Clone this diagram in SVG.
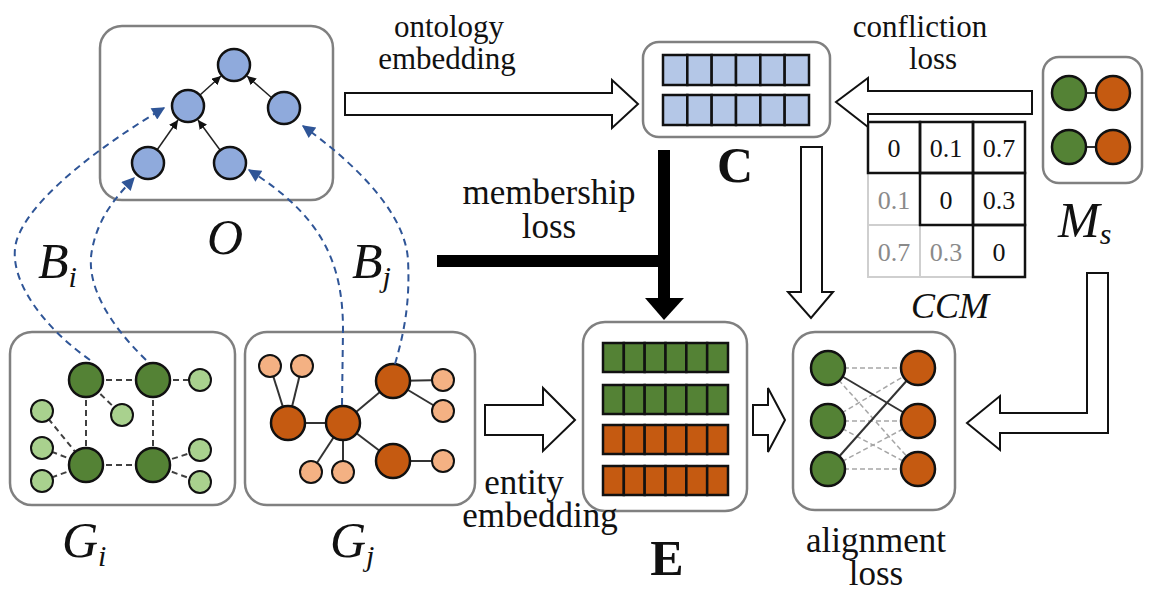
<svg xmlns="http://www.w3.org/2000/svg" width="1149" height="593" viewBox="0 0 1149 593">
  <defs>
    <style>
      .box { fill: #ffffff; stroke: #808080; stroke-width: 2.5; }
      .lbl { font-family: "Liberation Serif", "Times New Roman", serif; font-size: 35px; fill: #111; text-anchor: middle; }
      .lbl-s { font-size: 31px; }
      .math { font-family: "Liberation Serif", "Times New Roman", serif; font-style: italic; fill: #111; }
      .bold { font-family: "Liberation Serif", "Times New Roman", serif; font-weight: bold; fill: #111; text-anchor: middle; }
      .onode { fill: #8faadc; stroke: #111; stroke-width: 2.5; }
      .big-g { fill: #548235; stroke: #111; stroke-width: 2.5; }
      .small-g { fill: #a9d18e; stroke: #111; stroke-width: 2; }
      .big-o { fill: #c55a11; stroke: #111; stroke-width: 2.5; }
      .small-o { fill: #f4b183; stroke: #111; stroke-width: 2; }
      .cell-b { fill: #b4c7e7; stroke: #111; stroke-width: 2.5; }
      .cell-g { fill: #548235; stroke: #111; stroke-width: 2.5; }
      .cell-o { fill: #c55a11; stroke: #111; stroke-width: 2.5; }
      .dash-edge { stroke: #404040; stroke-width: 2; stroke-dasharray: 6 4; fill: none; }
      .solid-edge { stroke: #333; stroke-width: 2; fill: none; }
      .light-dash { stroke: #a6a6a6; stroke-width: 1.5; stroke-dasharray: 5 3; fill: none; }
      .blue-dash { stroke: #2f5597; stroke-width: 2; stroke-dasharray: 7 5; fill: none; marker-end: url(#blueHead); }
      .tree-edge { stroke: #222; stroke-width: 1.5; fill: none; marker-end: url(#blackHead); }
      .hollow { fill: #ffffff; stroke: #111; stroke-width: 2; stroke-linejoin: miter; }
      .mtx-num { font-family: "Liberation Serif", "Times New Roman", serif; font-size: 26px; text-anchor: middle; }
    </style>
    <marker id="blackHead" viewBox="0 0 10 10" refX="10" refY="5" markerWidth="9" markerHeight="9" markerUnits="userSpaceOnUse" orient="auto">
      <path d="M0,0 L10,5 L0,10 z" fill="#111"/>
    </marker>
    <marker id="blueHead" viewBox="0 0 10 10" refX="9" refY="5" markerWidth="15" markerHeight="13" markerUnits="userSpaceOnUse" orient="auto">
      <path d="M0,0 L10,5 L0,10 z" fill="#2f5597"/>
    </marker>
  </defs>

  <rect width="1149" height="593" fill="#ffffff"/>

  <!-- ontology O -->
  <g id="node-O">
    <rect class="box" x="100" y="26" width="233" height="174" rx="22"/>
    <line class="tree-edge" x1="157" y1="150" x2="178" y2="120"/>
    <line class="tree-edge" x1="220" y1="150" x2="198" y2="120"/>
    <line class="tree-edge" x1="200" y1="95" x2="221" y2="76"/>
    <line class="tree-edge" x1="272" y1="98" x2="247" y2="76"/>
    <circle class="onode" cx="234" cy="65" r="16"/>
    <circle class="onode" cx="188" cy="106" r="16"/>
    <circle class="onode" cx="284" cy="108" r="16"/>
    <circle class="onode" cx="148" cy="163" r="16"/>
    <circle class="onode" cx="230" cy="163" r="16"/>
    <text class="math" x="225" y="254" font-size="50" text-anchor="middle">O</text>
  </g>

  <!-- graph Gi -->
  <g id="node-Gi">
    <rect class="box" x="10" y="332" width="225" height="173" rx="22"/>
    <line class="dash-edge" x1="86" y1="380" x2="153" y2="380"/>
    <line class="dash-edge" x1="86" y1="380" x2="86" y2="465"/>
    <line class="dash-edge" x1="153" y1="380" x2="153" y2="465"/>
    <line class="dash-edge" x1="86" y1="465" x2="153" y2="465"/>
    <line class="dash-edge" x1="153" y1="380" x2="200" y2="380"/>
    <line class="dash-edge" x1="86" y1="380" x2="122" y2="415"/>
    <line class="dash-edge" x1="42" y1="411" x2="86" y2="465"/>
    <line class="dash-edge" x1="42" y1="448" x2="86" y2="465"/>
    <line class="dash-edge" x1="42" y1="481" x2="86" y2="465"/>
    <line class="dash-edge" x1="153" y1="465" x2="200" y2="450"/>
    <line class="dash-edge" x1="153" y1="465" x2="200" y2="482"/>
    <circle class="big-g" cx="86" cy="380" r="17"/>
    <circle class="big-g" cx="153" cy="380" r="17"/>
    <circle class="big-g" cx="86" cy="465" r="17"/>
    <circle class="big-g" cx="153" cy="465" r="17"/>
    <circle class="small-g" cx="200" cy="380" r="11"/>
    <circle class="small-g" cx="122" cy="415" r="11"/>
    <circle class="small-g" cx="42" cy="411" r="11"/>
    <circle class="small-g" cx="42" cy="448" r="11"/>
    <circle class="small-g" cx="42" cy="481" r="11"/>
    <circle class="small-g" cx="200" cy="450" r="11"/>
    <circle class="small-g" cx="200" cy="482" r="11"/>
    <text class="math" x="62" y="557" font-size="50">G<tspan font-size="30" dy="9">i</tspan></text>
  </g>

  <!-- graph Gj -->
  <g id="node-Gj">
    <rect class="box" x="245" y="332" width="230" height="173" rx="22"/>
    <line class="solid-edge" x1="288" y1="423" x2="270" y2="366"/>
    <line class="solid-edge" x1="288" y1="423" x2="302" y2="366"/>
    <line class="solid-edge" x1="288" y1="423" x2="343" y2="423" stroke-width="3"/>
    <line class="solid-edge" x1="343" y1="423" x2="393" y2="381"/>
    <line class="solid-edge" x1="343" y1="423" x2="393" y2="461"/>
    <line class="solid-edge" x1="343" y1="423" x2="311" y2="472"/>
    <line class="solid-edge" x1="343" y1="423" x2="343" y2="472"/>
    <line class="solid-edge" x1="393" y1="381" x2="443" y2="380"/>
    <line class="solid-edge" x1="393" y1="381" x2="443" y2="411"/>
    <line class="solid-edge" x1="393" y1="461" x2="443" y2="461" stroke-width="3"/>
    <circle class="big-o" cx="288" cy="423" r="17"/>
    <circle class="big-o" cx="343" cy="423" r="17"/>
    <circle class="big-o" cx="393" cy="381" r="17"/>
    <circle class="big-o" cx="393" cy="461" r="17"/>
    <circle class="small-o" cx="270" cy="366" r="11"/>
    <circle class="small-o" cx="302" cy="366" r="11"/>
    <circle class="small-o" cx="443" cy="380" r="11"/>
    <circle class="small-o" cx="443" cy="411" r="11"/>
    <circle class="small-o" cx="311" cy="472" r="11"/>
    <circle class="small-o" cx="343" cy="472" r="11"/>
    <circle class="small-o" cx="443" cy="461" r="11"/>
    <text class="math" x="330" y="557" font-size="50">G<tspan font-size="30" dy="9">j</tspan></text>
  </g>

  <!-- concept embeddings C -->
  <g id="node-C">
    <rect class="box" x="643" y="42" width="187" height="95" rx="16"/>
    <g>
      <rect class="cell-b" x="663" y="55" width="24.33" height="30"/>
      <rect class="cell-b" x="687.33" y="55" width="24.33" height="30"/>
      <rect class="cell-b" x="711.67" y="55" width="24.33" height="30"/>
      <rect class="cell-b" x="736" y="55" width="24.33" height="30"/>
      <rect class="cell-b" x="760.33" y="55" width="24.33" height="30"/>
      <rect class="cell-b" x="784.67" y="55" width="24.33" height="30"/>
      <rect class="cell-b" x="663" y="95" width="24.33" height="30"/>
      <rect class="cell-b" x="687.33" y="95" width="24.33" height="30"/>
      <rect class="cell-b" x="711.67" y="95" width="24.33" height="30"/>
      <rect class="cell-b" x="736" y="95" width="24.33" height="30"/>
      <rect class="cell-b" x="760.33" y="95" width="24.33" height="30"/>
      <rect class="cell-b" x="784.67" y="95" width="24.33" height="30"/>
    </g>
    <text class="bold" x="735" y="182" font-size="50">C</text>
  </g>

  <!-- concept conflict matrix -->
  <g id="node-CCM">
    <g fill="#ffffff" stroke="#cfcfcf" stroke-width="2">
      <rect x="868" y="173" width="52" height="52"/>
      <rect x="868" y="225" width="52" height="52"/>
      <rect x="920" y="225" width="53" height="52"/>
    </g>
    <g fill="none" stroke="#111" stroke-width="2.5">
      <rect x="868" y="122" width="52" height="51"/>
      <rect x="920" y="122" width="53" height="51"/>
      <rect x="973" y="122" width="52" height="51"/>
      <rect x="920" y="173" width="53" height="52"/>
      <rect x="973" y="173" width="52" height="52"/>
      <rect x="973" y="225" width="52" height="52"/>
    </g>
    <g class="mtx-num" fill="#111">
      <text x="894" y="157">0</text>
      <text x="946" y="157">0.1</text>
      <text x="999" y="157">0.7</text>
      <text x="946" y="209">0</text>
      <text x="999" y="209">0.3</text>
      <text x="999" y="261">0</text>
    </g>
    <g class="mtx-num" fill="#8a8a8a">
      <text x="894" y="209">0.1</text>
      <text x="894" y="261">0.7</text>
      <text x="946" y="261">0.3</text>
    </g>
    <text class="math" x="950" y="318" font-size="36" text-anchor="middle">CCM</text>
  </g>

  <!-- seed alignments Ms -->
  <g id="node-Ms">
    <rect class="box" x="1043" y="57" width="99" height="126" rx="16"/>
    <line class="solid-edge" x1="1069" y1="93" x2="1113" y2="93"/>
    <line class="solid-edge" x1="1069" y1="147" x2="1113" y2="147"/>
    <circle class="big-g" cx="1069" cy="93" r="17"/>
    <circle class="big-o" cx="1113" cy="93" r="17"/>
    <circle class="big-g" cx="1069" cy="147" r="17"/>
    <circle class="big-o" cx="1113" cy="147" r="17"/>
    <text class="math" x="1058" y="237" font-size="50">M<tspan font-size="30" dy="7">s</tspan></text>
  </g>

  <!-- entity embeddings E -->
  <g id="node-E">
    <rect class="box" x="583" y="322" width="164" height="189" rx="22"/>
    <g>
      <rect class="cell-g" x="603" y="343" width="20.83" height="29"/>
      <rect class="cell-g" x="623.83" y="343" width="20.83" height="29"/>
      <rect class="cell-g" x="644.67" y="343" width="20.83" height="29"/>
      <rect class="cell-g" x="665.5" y="343" width="20.83" height="29"/>
      <rect class="cell-g" x="686.33" y="343" width="20.83" height="29"/>
      <rect class="cell-g" x="707.17" y="343" width="20.83" height="29"/>
      <rect class="cell-g" x="603" y="385" width="20.83" height="29"/>
      <rect class="cell-g" x="623.83" y="385" width="20.83" height="29"/>
      <rect class="cell-g" x="644.67" y="385" width="20.83" height="29"/>
      <rect class="cell-g" x="665.5" y="385" width="20.83" height="29"/>
      <rect class="cell-g" x="686.33" y="385" width="20.83" height="29"/>
      <rect class="cell-g" x="707.17" y="385" width="20.83" height="29"/>
      <rect class="cell-o" x="603" y="425" width="20.83" height="29"/>
      <rect class="cell-o" x="623.83" y="425" width="20.83" height="29"/>
      <rect class="cell-o" x="644.67" y="425" width="20.83" height="29"/>
      <rect class="cell-o" x="665.5" y="425" width="20.83" height="29"/>
      <rect class="cell-o" x="686.33" y="425" width="20.83" height="29"/>
      <rect class="cell-o" x="707.17" y="425" width="20.83" height="29"/>
      <rect class="cell-o" x="603" y="466" width="20.83" height="29"/>
      <rect class="cell-o" x="623.83" y="466" width="20.83" height="29"/>
      <rect class="cell-o" x="644.67" y="466" width="20.83" height="29"/>
      <rect class="cell-o" x="665.5" y="466" width="20.83" height="29"/>
      <rect class="cell-o" x="686.33" y="466" width="20.83" height="29"/>
      <rect class="cell-o" x="707.17" y="466" width="20.83" height="29"/>
    </g>
    <text class="bold" x="667" y="575" font-size="50">E</text>
  </g>

  <!-- alignment module -->
  <g id="node-align">
    <rect class="box" x="793" y="332" width="162" height="178" rx="22"/>
    <line class="light-dash" x1="828" y1="368" x2="918" y2="368"/>
    <line class="light-dash" x1="828" y1="368" x2="918" y2="469"/>
    <line class="light-dash" x1="828" y1="421" x2="918" y2="368"/>
    <line class="light-dash" x1="828" y1="421" x2="918" y2="421"/>
    <line class="light-dash" x1="828" y1="421" x2="918" y2="469"/>
    <line class="light-dash" x1="828" y1="469" x2="918" y2="421"/>
    <line class="light-dash" x1="828" y1="469" x2="918" y2="469"/>
    <line class="solid-edge" x1="828" y1="368" x2="918" y2="421"/>
    <line class="solid-edge" x1="828" y1="469" x2="918" y2="368"/>
    <circle class="big-g" cx="828" cy="368" r="17"/>
    <circle class="big-g" cx="828" cy="421" r="17"/>
    <circle class="big-g" cx="828" cy="469" r="17"/>
    <circle class="big-o" cx="918" cy="368" r="17"/>
    <circle class="big-o" cx="918" cy="421" r="17"/>
    <circle class="big-o" cx="918" cy="469" r="17"/>
  </g>

  <!-- connectors -->
  <g id="connectors">
    <path class="blue-dash" d="M 90 360 C 40 325, 0 270, 20 232 C 40 190, 110 140, 164 108"/>
    <path class="blue-dash" d="M 146 360 C 110 325, 85 285, 92 250 C 98 218, 115 198, 134 178"/>
    <path class="blue-dash" d="M 342 405 L 343 330 C 343 260, 320 215, 249 170"/>
    <path class="blue-dash" d="M 395 364 C 405 330, 410 300, 408 260 C 405 210, 350 160, 303 126"/>

    <polygon class="hollow" points="345,93 612,93 612,80 638,104 612,128 612,115 345,115"/>
    <polygon class="hollow" points="1032,91 868,91 868,78 836,102 868,127 868,114 1032,114"/>
    <polygon class="hollow" points="801,147 822,147 822,292 833,292 811,318 788,292 801,292"/>
    <polygon class="hollow" points="485,405 543,405 543,388 575,420 543,451 543,435 485,435"/>
    <polygon class="hollow" points="753,405 768,405 768,388 785,420 768,452 768,435 753,435"/>
    <polygon class="hollow" points="1087,273 1108,273 1108,433 1000,433 1000,450 967,423 1000,396 1000,413 1087,413"/>

    <g fill="#000">
      <rect x="437" y="255" width="233" height="12"/>
      <rect x="658" y="150" width="12" height="150"/>
      <polygon points="645,298 684,298 664,320"/>
    </g>
  </g>

  <!-- edge labels -->
  <g id="labels">
    <text class="lbl lbl-s" x="449" y="37">ontology</text>
    <text class="lbl lbl-s" x="447" y="69">embedding</text>
    <text class="lbl lbl-s" x="920" y="37">confliction</text>
    <text class="lbl lbl-s" x="933" y="69">loss</text>
    <text class="lbl" x="549" y="204">membership</text>
    <text class="lbl" x="549" y="238">loss</text>
    <text class="lbl" x="524" y="494" font-size="32">entity</text>
    <text class="lbl" x="540" y="527" font-size="32">embedding</text>
    <text class="lbl" x="876" y="552">alignment</text>
    <text class="lbl" x="876" y="585">loss</text>
    <text class="math" x="38" y="278" font-size="50">B<tspan font-size="30" dy="9">i</tspan></text>
    <text class="math" x="352" y="278" font-size="50">B<tspan font-size="30" dy="9">j</tspan></text>
  </g>
</svg>
